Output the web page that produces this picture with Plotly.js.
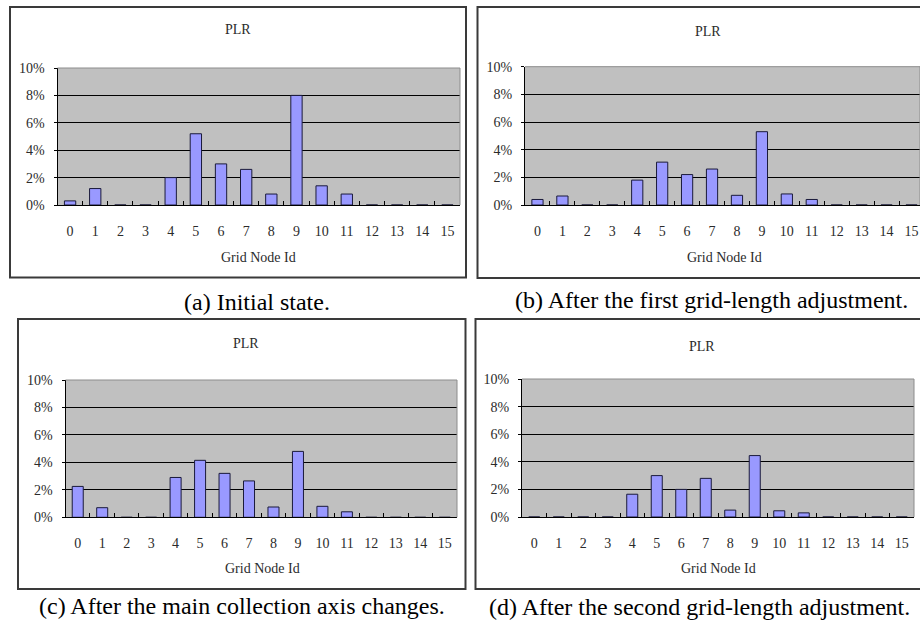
<!DOCTYPE html>
<html>
<head>
<meta charset="utf-8">
<script src="https://cdn.plot.ly/plotly-3.0.1.min.js"></script>
<style>
  html, body { margin: 0; padding: 0; background: #ffffff; }
  #chart { width: 920px; height: 628px; }
</style>
</head>
<body>
<div id="chart"></div>
<script>
// ---- data (PLR in percent, per grid node id) ----
const gridNodeIds = ['0','1','2','3','4','5','6','7','8','9','10','11','12','13','14','15'];
const plrInitial      = [0.3, 1.2, 0, 0, 2.0, 5.2, 3.0, 2.6, 0.8, 8.0, 1.4, 0.8, 0, 0, 0, 0];
const plrFirstAdjust  = [0.4, 0.65, 0, 0, 1.8, 3.1, 2.2, 2.6, 0.7, 5.3, 0.8, 0.4, 0, 0, 0, 0];
const plrAxisChange   = [2.25, 0.7, 0, 0, 2.9, 4.15, 3.2, 2.65, 0.75, 4.8, 0.8, 0.4, 0, 0, 0, 0];
const plrSecondAdjust = [0, 0, 0, 0, 1.65, 3.0, 2.0, 2.8, 0.5, 4.45, 0.45, 0.3, 0, 0, 0, 0];
const yTickVals   = [0, 2, 4, 6, 8, 10];
const yTickLabels = ['0%', '2%', '4%', '6%', '8%', '10%'];
const chartTitle = 'PLR';
const xTitle = 'Grid Node Id';
const captions = [
  '(a) Initial state.',
  '(b) After the first grid-length adjustment.',
  '(c) After the main collection axis changes.',
  '(d) After the second grid-length adjustment.'
];

// ---- layout helpers (pixel -> paper) ----
const W = 920, H = 628;
const px = v => v / W;
const py = v => 1 - v / H;

const FONT = "'Liberation Serif', 'Times New Roman', Times, serif";
const TXT = '#2b2b2b';

const seriesList = [plrInitial, plrFirstAdjust, plrAxisChange, plrSecondAdjust];
// plot areas in pixels: [left, right, top, bottom]
const plotAreas = [
  [57.5, 460, 68, 205],
  [525, 920, 66.7, 205],
  [65.5, 457, 380, 517.3],
  [522, 914, 379, 517]
];
const xRanges = [[-0.5, 15.5], [-0.5, 15.34], [-0.5, 15.5], [-0.5, 15.5]];
const boxes = [
  [10, 466, 7, 277.5],
  [477.5, 926, 7, 278],
  [18, 465.5, 319, 589],
  [475.5, 926, 319, 589]
];
const titlePos = [[238, 29], [708, 31], [246, 343], [702, 346]];
const xTitlePos = [[258, 257], [724, 257], [262, 568], [718, 568]];
const captionPos = [[256.5, 302], [711, 300], [242, 606], [699.5, 607]];

const data = [];
const layout = {
  width: W, height: H,
  margin: {l: 0, r: 0, t: 0, b: 0},
  paper_bgcolor: '#ffffff',
  plot_bgcolor: '#c0c0c0',
  showlegend: false,
  bargap: 0.55,
  font: {family: FONT, size: 14, color: TXT},
  shapes: [],
  annotations: []
};

seriesList.forEach((vals, i) => {
  const n = i + 1;
  const xa = n === 1 ? 'x' : 'x' + n;
  const ya = n === 1 ? 'y' : 'y' + n;
  data.push({
    type: 'bar',
    x: gridNodeIds,
    y: vals,
    xaxis: xa, yaxis: ya,
    marker: {color: '#9999ff', line: {color: '#1a1a3a', width: 1}},
    hoverinfo: 'x+y'
  });
  const [l, r, t, b] = plotAreas[i];
  const xk = n === 1 ? 'xaxis' : 'xaxis' + n;
  const yk = n === 1 ? 'yaxis' : 'yaxis' + n;
  layout[xk] = {
    type: 'category',
    domain: [px(l), px(r)],
    anchor: ya,
    range: xRanges[i],
    showgrid: false,
    zeroline: false,
    showline: true, linecolor: '#000000', linewidth: 1,
    ticks: 'inside', tickson: 'boundaries', ticklen: 4, tickcolor: '#000000', tickwidth: 1,
    ticklabelstandoff: 13,
    tickfont: {family: FONT, size: 14, color: TXT},
    fixedrange: true
  };
  layout[yk] = {
    domain: [py(b), py(t)],
    anchor: xa,
    range: [0, 10],
    tickmode: 'array',
    tickvals: yTickVals,
    ticktext: yTickLabels,
    showgrid: true, gridcolor: '#000000', gridwidth: 1,
    zeroline: false,
    showline: true, linecolor: '#000000', linewidth: 1,
    ticks: 'outside', ticklen: 3, tickcolor: '#000000',
    ticklabelstandoff: 6,
    tickfont: {family: FONT, size: 14, color: TXT},
    fixedrange: true
  };
  // grey top and right edges of plot area
  layout.shapes.push({
    type: 'line', xref: xa + ' domain', yref: ya + ' domain',
    x0: 0, x1: 1, y0: 1, y1: 1, line: {color: '#8c8c8c', width: 1}, layer: 'above'
  });
  layout.shapes.push({
    type: 'line', xref: xa + ' domain', yref: ya + ' domain',
    x0: 1, x1: 1, y0: 0, y1: 1, line: {color: '#8c8c8c', width: 1}, layer: 'above'
  });
  // panel frame
  const [bl, br, bt, bb] = boxes[i];
  layout.shapes.push({
    type: 'rect', xref: 'paper', yref: 'paper',
    x0: px(bl), x1: px(br), y0: py(bb), y1: py(bt),
    line: {color: '#3a3a3a', width: 2}, fillcolor: 'rgba(0,0,0,0)', layer: 'below'
  });
  // texts
  layout.annotations.push({
    text: chartTitle, xref: 'paper', yref: 'paper',
    x: px(titlePos[i][0]), y: py(titlePos[i][1]),
    xanchor: 'center', yanchor: 'middle', showarrow: false,
    font: {family: FONT, size: 14, color: TXT}
  });
  layout.annotations.push({
    text: xTitle, xref: 'paper', yref: 'paper',
    x: px(xTitlePos[i][0]), y: py(xTitlePos[i][1]),
    xanchor: 'center', yanchor: 'middle', showarrow: false,
    font: {family: FONT, size: 14, color: TXT}
  });
  layout.annotations.push({
    text: captions[i], xref: 'paper', yref: 'paper',
    x: px(captionPos[i][0]), y: py(captionPos[i][1]),
    xanchor: 'center', yanchor: 'middle', showarrow: false,
    font: {family: FONT, size: 24, color: '#000000'}
  });
});

Plotly.newPlot('chart', data, layout, {staticPlot: true, displayModeBar: false});
</script>
</body>
</html>
